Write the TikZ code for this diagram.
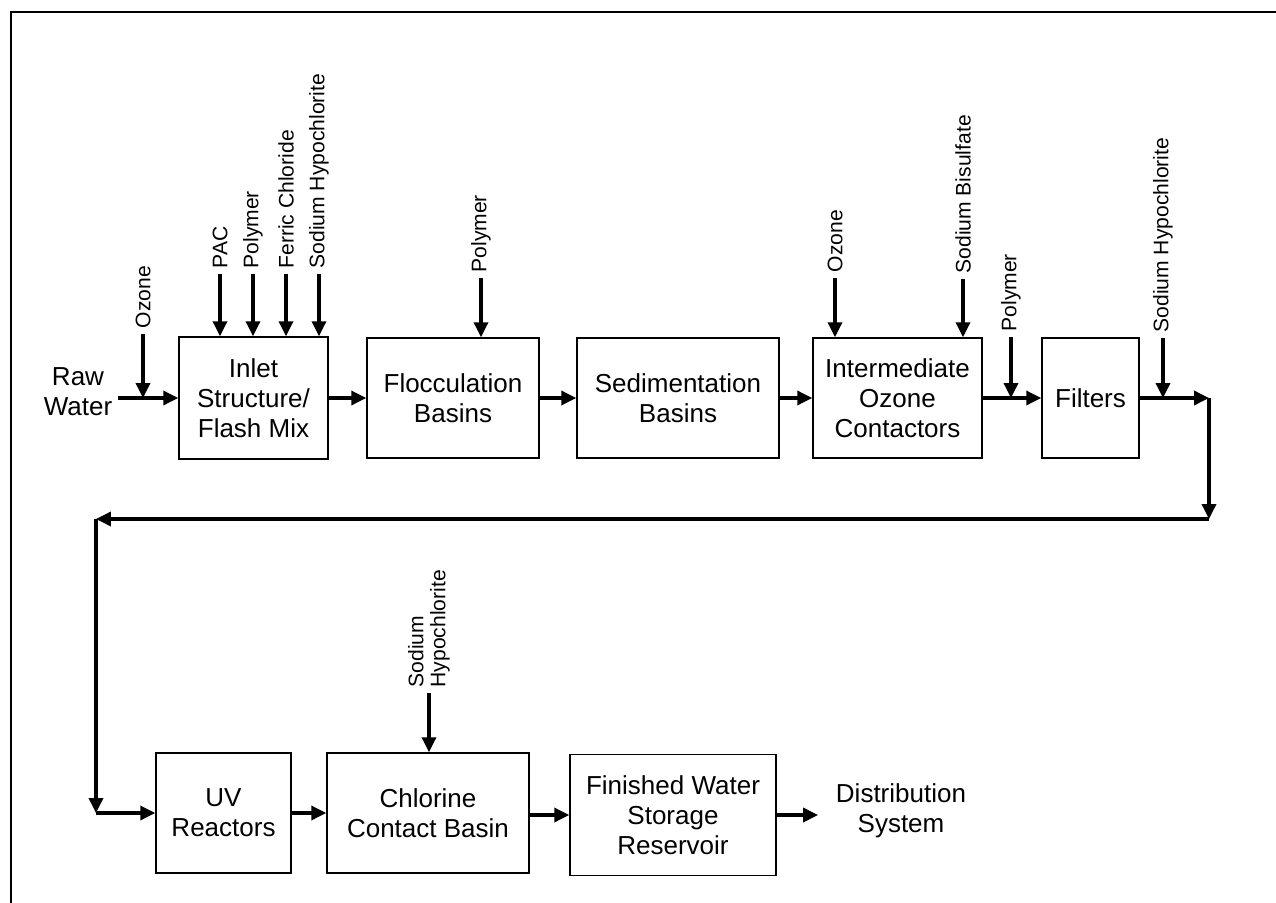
\documentclass[tikz,border=0pt]{standalone}
\usepackage{fontspec}
\setmainfont{Liberation Sans}
\usetikzlibrary{arrows.meta}

\begin{document}
\begin{tikzpicture}[x=0.02cm,y=-0.02cm,
  box/.style={draw,line width=0.9pt,align=center,inner sep=0pt,
    minimum height=2.4cm,font=\fontsize{14.8}{17.2}\selectfont},
  txt/.style={align=center,inner sep=3pt,font=\fontsize{14.8}{17.2}\selectfont},
  chem/.style={rotate=90,anchor=west,align=left,inner sep=3pt,
    font=\fontsize{12}{12.5}\selectfont},
  flow/.style={line width=1.8pt,-{Triangle[length=8.5pt,width=8pt]}}]
\useasboundingbox (0,0) rectangle (1276,903);
\draw[line width=1.1pt] (11,903) -- (11,12) -- (1276,12);

% first row
\node[txt] (raw) at (78,392) {Raw\\Water};
\node[box,minimum width=2.98cm,minimum height=2.44cm] (inlet) at (253.5,398) {Inlet\\Structure/\\Flash Mix};
\node[box,minimum width=3.44cm] (floc) at (453,398) {Flocculation\\Basins};
\node[box,minimum width=4.04cm] (sed) at (678,398) {Sedimentation\\Basins};
\node[box,minimum width=3.38cm] (ozc) at (897.5,398) {Intermediate\\Ozone\\Contactors};
\node[box,minimum width=1.94cm] (filt) at (1090.5,398) {Filters};

% chemical feeds
\node[chem] (oz1) at (143,334) {Ozone};
\node[chem] (pac) at (220,274) {PAC};
\node[chem] (poly1) at (253,274) {Polymer};
\node[chem] (ferric) at (286,274) {Ferric Chloride};
\node[chem] (hypo1) at (319,274) {Sodium Hypochlorite};
\node[chem] (poly2) at (481,278) {Polymer};
\node[chem] (oz2) at (835,278) {Ozone};
\node[chem] (bisulf) at (963,279) {Sodium Bisulfate};
\node[chem] (poly3) at (1011,337) {Polymer};
\node[chem] (hypo2) at (1163,338) {Sodium Hypochlorite};

\draw[flow] (raw.east |- inlet.west) -- (inlet.west);
\draw[flow] (oz1.west) -- (oz1.west |- inlet.west);
\foreach \n in {pac,poly1,ferric,hypo1}
  \draw[flow] (\n.west) -- (\n.west |- inlet.north);
\draw[flow] (poly2.west) -- (poly2.west |- floc.north);
\draw[flow] (oz2.west) -- (oz2.west |- ozc.north);
\draw[flow] (bisulf.west) -- (bisulf.west |- ozc.north);
\draw[flow] (inlet.east) -- (floc.west);
\draw[flow] (floc.east) -- (sed.west);
\draw[flow] (sed.east) -- (ozc.west);
\draw[flow] (ozc.east) -- (filt.west);
\draw[flow] (poly3.west) -- (poly3.west |- filt.west);

% return line
\coordinate (c1) at (1209,398);
\coordinate (c2) at (1209,519);
\coordinate (c3) at (96,519);
\coordinate (c4) at (96,813);
\draw[flow] (filt.east) -- (c1);
\draw[flow] (hypo2.west) -- (hypo2.west |- c1);
\draw[flow] (c1) -- (c2);
\draw[flow] (c2) -- (c3);
\draw[flow] (c3) -- (c4);

% second row
\node[box,minimum width=2.7cm] (uv) at (223.5,813) {UV\\Reactors};
\node[box,minimum width=4.04cm] (chl) at (428,813) {Chlorine\\Contact Basin};
\node[box,minimum width=4.12cm,minimum height=2.42cm] (fin) at (673,815) {Finished Water\\Storage\\Reservoir};
\node[txt,inner xsep=10pt] (dist) at (901,811) {Distribution\\System};
\node[chem] (hypo3) at (429,693) {Sodium\\Hypochlorite};

\draw[flow] (c4) -- (uv.west);
\draw[flow] (uv.east) -- (chl.west);
\draw[flow] (hypo3.west) -- (hypo3.west |- chl.north);
\draw[flow] (chl.east |- fin.west) -- (fin.west);
\draw[flow] (fin.east) -- (dist.west |- fin.east);
\end{tikzpicture}
\end{document}
